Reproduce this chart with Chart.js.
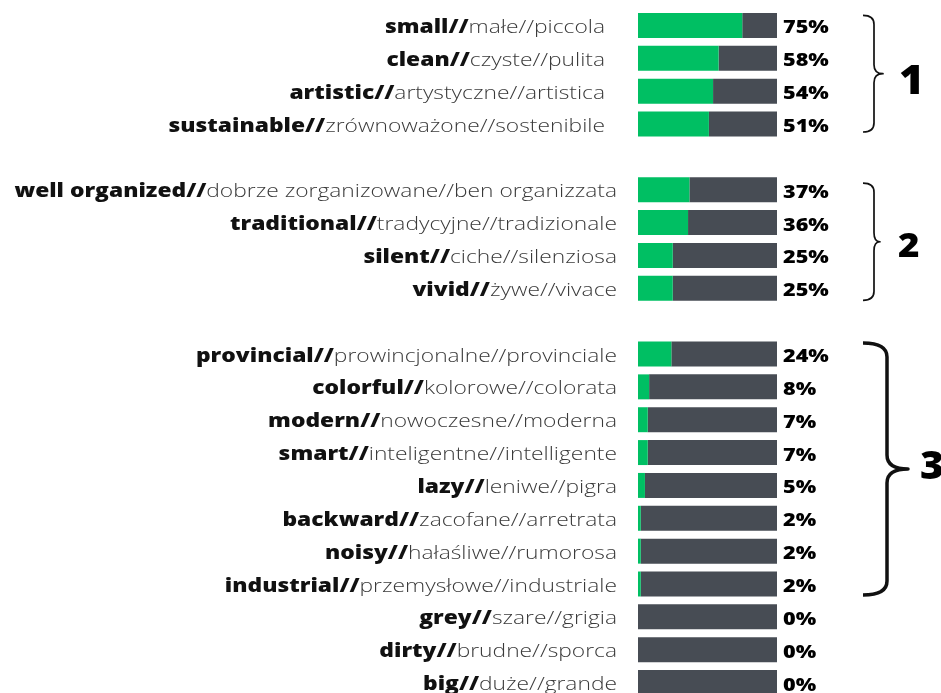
<!DOCTYPE html>
<html lang="en">
<head>
    <meta charset="UTF-8">
    <title>Adjectives</title>
    <style>
        html, body {
            margin: 0;
            padding: 0;
            background: #ffffff;
            overflow: hidden;
        }
        #wrap {
            position: relative;
            width: 941px;
            height: 700px;
        }
    </style>
    <script src="https://cdn.jsdelivr.net/npm/chart.js"></script>
</head>
<body>
    <div id="wrap">
        <canvas id="chart"></canvas>
    </div>

    <script>
        // empty strings are the spacer rows between groups
        const boldWords = ['small//', 'clean//', 'artistic//', 'sustainable//', '',
            'well organized//', 'traditional//', 'silent//', 'vivid//', '',
            'provincial//', 'colorful//', 'modern//', 'smart//', 'lazy//', 'backward//',
            'noisy//', 'industrial//', 'grey//', 'dirty//', 'big//'];
        const restWords = ['małe//piccola', 'czyste//pulita', 'artystyczne//artistica', 'zrównoważone//sostenibile', '',
            'dobrze zorganizowane//ben organizzata', 'tradycyjne//tradizionale', 'ciche//silenziosa', 'żywe//vivace', '',
            'prowincjonalne//provinciale', 'kolorowe//colorata', 'nowoczesne//moderna', 'inteligentne//intelligente',
            'leniwe//pigra', 'zacofane//arretrata', 'hałaśliwe//rumorosa', 'przemysłowe//industriale',
            'szare//grigia', 'brudne//sporca', 'duże//grande'];
        const yesValues = [75, 58, 54, 51, null, 37, 36, 25, 25, null, 24, 8, 7, 7, 5, 2, 2, 2, 0, 0, 0];
        const restValues = [25, 42, 46, 49, null, 63, 64, 75, 75, null, 76, 92, 93, 93, 95, 98, 98, 98, 100, 100, 100];
        const pctLabels = ['75%', '58%', '54%', '51%', '', '37%', '36%', '25%', '25%', '',
            '24%', '8%', '7%', '7%', '5%', '2%', '2%', '2%', '0%', '0%', '0%'];
        // groups: first row, last row, number shown
        const groupFirst = [0, 5, 10];
        const groupLast = [3, 8, 17];
        const groupNames = ['1', '2', '3'];

        const GREEN = '#00bf63';
        const GREY = '#474c54';
        const FONT = '"Open Sans", "Liberation Sans", sans-serif';
        const STRETCH = 1.2; // the original artwork is a bit wide

        const categories = boldWords.map((b, i) => b + restWords[i]);

        function wideText(ctx, text, x, y, s) {
            ctx.save();
            ctx.translate(x, y);
            ctx.scale(s || STRETCH, 1);
            ctx.fillText(text, 0, 0);
            ctx.restore();
        }

        const labelsPlugin = {
            id: 'sideLabels',
            afterDatasetsDraw(chart) {
                const ctx = chart.ctx;
                const yScale = chart.scales.y;
                const area = chart.chartArea;
                ctx.save();
                ctx.textBaseline = 'alphabetic';
                ctx.textAlign = 'left';
                boldWords.forEach((b, i) => {
                    if (!b) return;
                    const y = yScale.getPixelForValue(i);
                    const xEnd = area.left - (i < 4 ? 33 : 21);
                    const rest = restWords[i];
                    ctx.font = '300 19px ' + FONT;
                    const restW = ctx.measureText(rest).width * STRETCH;
                    ctx.fillStyle = '#3a3a3a';
                    wideText(ctx, rest, xEnd - restW, y + 7.5);
                    ctx.font = '800 19px ' + FONT;
                    const boldW = ctx.measureText(b).width * STRETCH;
                    ctx.fillStyle = '#111111';
                    wideText(ctx, b, xEnd - restW - boldW, y + 7.5);

                    ctx.font = '800 18px ' + FONT;
                    ctx.fillStyle = '#000000';
                    wideText(ctx, pctLabels[i], area.right + 6, y + 8);
                });

                // curly braces with group numbers
                const tops = [-10, -6.5, -11];
                const bottoms = [8, 12, 11];
                const lineX = [11, 11, 24];
                const tipX = [20, 17, 45];
                const radius = [9, 9, 14];
                const widths = [1.7, 1.7, 3.5];
                const numSize = [40, 34, 38];
                const numX = [36, 35, 57];
                const numDy = [20, 15, 10];
                groupFirst.forEach((first, g) => {
                    const top = yScale.getPixelForValue(first) + tops[g];
                    const bottom = yScale.getPixelForValue(groupLast[g]) + bottoms[g];
                    const mid = (top + bottom) / 2;
                    const x0 = area.right + 86;
                    const xm = x0 + lineX[g];
                    const r = radius[g];
                    ctx.beginPath();
                    ctx.lineWidth = widths[g];
                    ctx.strokeStyle = '#111111';
                    ctx.lineJoin = 'round';
                    ctx.moveTo(x0, top);
                    ctx.quadraticCurveTo(xm, top, xm, top + r);
                    ctx.lineTo(xm, mid - r);
                    ctx.quadraticCurveTo(xm, mid, x0 + tipX[g], mid);
                    ctx.quadraticCurveTo(xm, mid, xm, mid + r);
                    ctx.lineTo(xm, bottom - r);
                    ctx.quadraticCurveTo(xm, bottom, x0, bottom);
                    ctx.stroke();

                    ctx.font = '800 ' + numSize[g] + 'px ' + FONT;
                    ctx.fillStyle = '#000000';
                    wideText(ctx, groupNames[g], x0 + numX[g], mid + numDy[g], 1.08);
                });
                ctx.restore();
            }
        };

        new Chart(document.getElementById('chart'), {
            type: 'bar',
            data: {
                labels: categories,
                datasets: [{
                    data: yesValues,
                    backgroundColor: GREEN,
                    barPercentage: 0.76,
                    categoryPercentage: 1
                }, {
                    data: restValues,
                    backgroundColor: GREY,
                    barPercentage: 0.76,
                    categoryPercentage: 1
                }]
            },
            options: {
                indexAxis: 'y',
                responsive: true,
                maintainAspectRatio: false,
                animation: false,
                layout: {
                    padding: { left: 638, right: 164, top: 9, bottom: 1 }
                },
                plugins: {
                    legend: { display: false },
                    tooltip: { enabled: false }
                },
                scales: {
                    x: {
                        stacked: true,
                        min: 0,
                        max: 100,
                        display: false
                    },
                    y: {
                        stacked: true,
                        display: false
                    }
                }
            },
            plugins: [labelsPlugin]
        });
    </script>
</body>
</html>
